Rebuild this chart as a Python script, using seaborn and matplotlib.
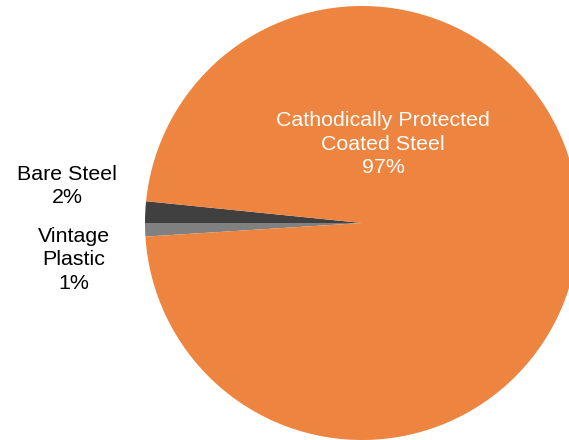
import matplotlib
matplotlib.use("Agg")
import matplotlib.pyplot as plt
import seaborn as sns

# Dados do gráfico (participação por tipo de material)
categorias = ["Bare Steel", "Vintage Plastic", "Cathodically Protected Coated Steel"]
valores = [1.6, 1.0, 97.4]
rotulos = ["Bare Steel\n2%", "Vintage\nPlastic\n1%", "Cathodically Protected\nCoated Steel\n97%"]
cores = ["#404040", "#808080", "#ED843F"]

sns.set_style("white")
plt.rcParams["font.family"] = ["Liberation Sans", "DejaVu Sans"]

W, H = 569, 440
fig = plt.figure(figsize=(W / 100, H / 100), dpi=100)
ax = fig.add_axes([0, 0, 1, 1])

# Pizza começando no lado esquerdo, sentido anti-horário
inicio = 180 - valores[0] / 100 * 360
ax.pie(valores, colors=cores, startangle=inicio, counterclock=True,
       radius=1.0, center=(0, 0), wedgeprops={"linewidth": 0})

# Escala: centro em (362, 223) px, raio 217 px
cx, cy, r = 362, 223, 217
ax.set_xlim(-cx / r, (W - cx) / r)
ax.set_ylim(-(H - cy) / r, cy / r)
ax.set_aspect("equal")
ax.axis("off")

# Rótulos
fs = 15.4
ax.text(0.097, 0.364, rotulos[2], color="white", fontsize=fs,
        ha="center", va="center", linespacing=1.3)
ax.text(-1.359, 0.17, rotulos[0], color="black", fontsize=fs,
        ha="center", va="center", linespacing=1.3)
ax.text(-1.327, -0.17, rotulos[1], color="black", fontsize=fs,
        ha="center", va="center", linespacing=1.3)

fig.savefig("out.png", dpi=100)
